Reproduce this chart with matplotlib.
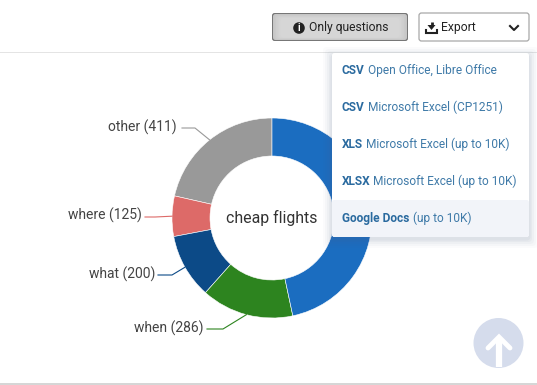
import matplotlib
matplotlib.use('Agg')
import matplotlib.pyplot as plt
from matplotlib.patches import Circle, FancyBboxPatch, Rectangle, Polygon
import numpy as np

plt.rcParams['font.family'] = ['Roboto', 'DejaVu Sans']

# data: the last slice has its label hidden under the menu
categories = ['other', 'where', 'what', 'when', '']
values = [411, 125, 200, 286, 894]
colors = ['#999999', '#dd6a68', '#0c4a87', '#2d841f', '#1b6dc0']
center_text = 'cheap flights'

menu_bold = ['CSV', 'CSV', 'XLS', 'XLSX', 'Google Docs']
menu_rest = ['Open Office, Libre Office', 'Microsoft Excel (CP1251)',
             'Microsoft Excel (up to 10K)', 'Microsoft Excel (up to 10K)', '(up to 10K)']

W, H = 537, 385
CX, CY, R, R_IN = 272, 218, 100, 62


def Y(y):
    return H - y


fig = plt.figure(figsize=(W / 100, H / 100), dpi=100)
ax = fig.add_axes([0, 0, 1, 1])

# donut
wedges, _ = ax.pie(values, colors=colors, startangle=90, center=(CX, Y(CY)), radius=R,
                   wedgeprops=dict(width=R - R_IN, edgecolor='white', linewidth=0.4),
                   frame=True)
ax.set_xlim(0, W)
ax.set_ylim(0, H)
ax.axis('off')
ax.text(CX, Y(218), center_text, fontsize=11.4, color='#333333', ha='center', va='center', zorder=3)

# leader lines and labels, elbow/text positions in pixels
elbows = [(195, 128), (155, 217), (172, 275), (223, 329)]
ends = [(182, 128), (145, 217), (158, 275), (207, 329)]
label_right = [177, 142, 155, 204]
label_y = [127, 215, 274, 328]
for i in range(4):
    a = np.deg2rad((wedges[i].theta1 + wedges[i].theta2) / 2)
    px, py = CX + R * np.cos(a), CY - R * np.sin(a)
    ax.plot([px, elbows[i][0], ends[i][0]], [Y(py), Y(elbows[i][1]), Y(ends[i][1])],
            color=colors[i], lw=0.8, zorder=2)
    ax.text(label_right[i], Y(label_y[i]), '%s (%d)' % (categories[i], values[i]),
            fontsize=10, color='#444444', ha='right', va='center', zorder=3)

# header separator and bottom strip
ax.add_patch(Rectangle((0, Y(53)), W, 1, color='#e4e4e4', lw=0, zorder=1))
ax.add_patch(Rectangle((0, 0), W, 2, color='#d6d6d6', lw=0, zorder=1))


def box(x0, y0, x1, y1, fc, ec='none', lw=0.0, z=5, alpha=None, rad=2.5):
    ax.add_patch(FancyBboxPatch((x0 + rad, Y(y1) + rad), x1 - x0 - 2 * rad, y1 - y0 - 2 * rad,
                                boxstyle='round,pad=%g,rounding_size=%g' % (rad, rad),
                                fc=fc, ec=ec, lw=lw, zorder=z, alpha=alpha))


# buttons
box(272, 13, 408, 41, '#777777', z=5)
shades = ['#c6c6c6', '#cacaca', '#cecece', '#d1d1d1', '#d4d4d4', '#d6d6d6']
for k, shade in enumerate(shades):
    box(273 + 1.5 * k, 14 + k * 0.8, 407 - 1.5 * k, 40 - k * 0.5, shade, z=5.1 + k * 0.1)
ax.add_patch(Circle((299, Y(28)), 5.8, color='#222222', lw=0, zorder=6))
ax.text(299, Y(28), 'i', fontsize=7, fontweight='bold', color='white', ha='center', va='center', zorder=7)
ax.text(309, Y(27), 'Only questions', fontsize=8.7, color='#222222', va='center', zorder=6)

box(419, 13, 529, 41, 'white', ec='#a8a8a8', lw=0.9)
ax.plot([426, 426, 437, 437], [Y(30), Y(32.5), Y(32.5), Y(30)], color='#222222', lw=1.5, zorder=6, solid_joinstyle='miter')
ax.add_patch(Polygon([(427.5, Y(25)), (435.5, Y(25)), (431.5, Y(30))], color='#222222', lw=0, zorder=6))
ax.plot([431.5, 431.5], [Y(21.5), Y(26)], color='#222222', lw=2, zorder=6, solid_capstyle='butt')
ax.text(441, Y(27), 'Export', fontsize=8.7, color='#222222', va='center', zorder=6)
ax.plot([510, 514, 518], [Y(26), Y(30), Y(26)], color='#222222', lw=1.5, zorder=6)

# dropdown menu with soft shadow
for grow, al in zip([9, 7, 5, 3, 1.5], [0.025, 0.03, 0.04, 0.05, 0.06]):
    box(332 - grow, 53 - grow + 3, 529 + grow, 237 + grow + 2, '#55698f', z=8, alpha=al, rad=4)
box(332, 53, 529, 237, 'white', z=9)
box(332, 200, 529, 237, '#f2f4f9', z=9.1)

row_base = [74, 111, 148, 185, 222]
rest_x = [368, 368, 366, 373, 413]
for i in range(len(menu_bold)):
    ax.text(342, Y(row_base[i]), menu_bold[i], fontsize=8.6, fontweight='bold', color='#2a6a9f', va='baseline', zorder=10)
    ax.text(rest_x[i], Y(row_base[i]), menu_rest[i], fontsize=8.6, color='#3f7aa8', va='baseline', zorder=10)

# scroll to top button
ax.add_patch(Circle((498.5, Y(343)), 25, color='#d5dcec', lw=0, zorder=4))
ax.plot([488, 499, 510], [Y(348), Y(337), Y(348)], color='white', lw=3.5, zorder=5,
        solid_joinstyle='miter', solid_capstyle='round')
ax.plot([499, 499], [Y(337), Y(367)], color='white', lw=4.5, zorder=5, solid_capstyle='butt')

fig.savefig('out.png', dpi=100, facecolor='white')
